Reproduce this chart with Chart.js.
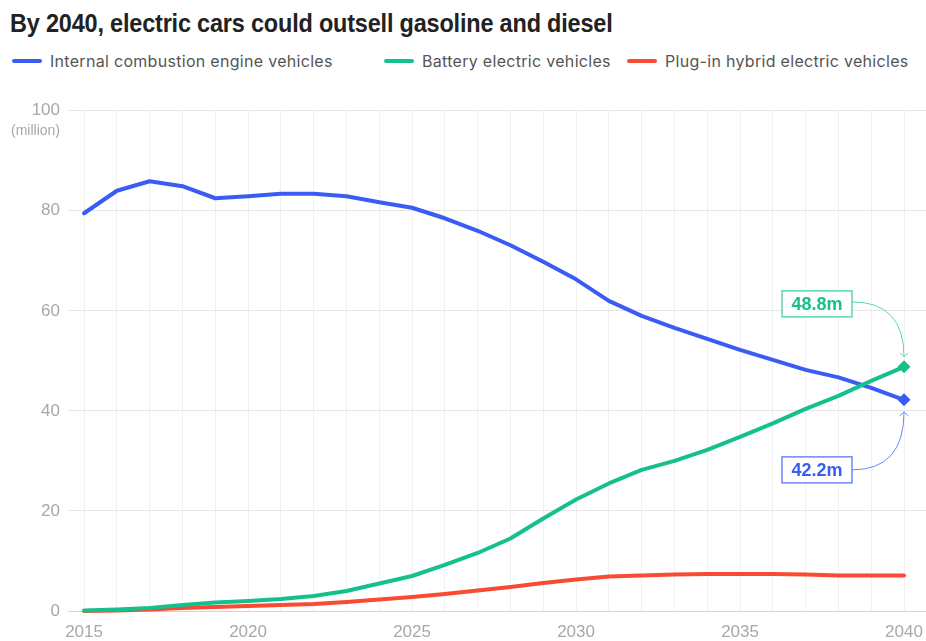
<!DOCTYPE html>
<html>
<head>
<meta charset="utf-8">
<script src="https://cdn.jsdelivr.net/npm/chart.js@4.4.1/dist/chart.umd.min.js"></script>
<style>
  html, body { margin: 0; padding: 0; background: #fff; }
  body { width: 926px; height: 641px; position: relative; overflow: hidden; font-family: "Liberation Sans", Arial, sans-serif; }
  #title { position: absolute; left: 10px; top: 8px; font-family: "Liberation Sans", Arial, sans-serif; font-weight: bold; font-size: 26px; color: #222; white-space: nowrap; transform: scaleX(0.902); transform-origin: left top; letter-spacing: -0.2px; }
  #legend { position: absolute; left: 12px; top: 51px; font-family: Inter, sans-serif; font-size: 16px; letter-spacing: 0.3px; color: #555; white-space: nowrap; }
  .item { position: absolute; top: 0; display: flex; align-items: center; height: 20px; }
  .swatch { width: 30px; height: 4px; border-radius: 2px; margin-right: 8px; }
  #wrap { position: absolute; left: 0; top: 80px; width: 926px; height: 561px; }
</style>
</head>
<body>
<div id="title">By 2040, electric cars could outsell gasoline and diesel</div>
<div id="legend"></div>
<div id="wrap"><canvas id="chart"></canvas></div>
<script>
// sales by year, million vehicles
const years = [2015, 2016, 2017, 2018, 2019, 2020, 2021, 2022, 2023, 2024, 2025, 2026, 2027,
  2028, 2029, 2030, 2031, 2032, 2033, 2034, 2035, 2036, 2037, 2038, 2039, 2040];
const iceSales = [79.5, 84.0, 85.9, 84.9, 82.5, 82.9, 83.4, 83.4, 82.9, 81.7, 80.6, 78.5, 76.0,
  73.1, 69.8, 66.3, 62.0, 59.0, 56.6, 54.4, 52.2, 50.2, 48.2, 46.7, 44.6, 42.2];
const bevSales = [0.1, 0.3, 0.6, 1.2, 1.7, 2.0, 2.4, 3.0, 4.0, 5.5, 7.0, 9.2, 11.6,
  14.5, 18.5, 22.3, 25.5, 28.2, 30.0, 32.2, 34.8, 37.5, 40.4, 43.0, 46.0, 48.8];
const phevSales = [0.0, 0.1, 0.3, 0.6, 0.8, 1.0, 1.2, 1.4, 1.8, 2.3, 2.8, 3.4, 4.1,
  4.8, 5.6, 6.3, 6.9, 7.1, 7.3, 7.4, 7.4, 7.4, 7.3, 7.1, 7.1, 7.1];
const seriesNames = ["Internal combustion engine vehicles", "Battery electric vehicles", "Plug-in hybrid electric vehicles"];
const yTicks = [0, 20, 40, 60, 80, 100];

const BLUE = "#3a5cf4";
const GREEN = "#16c08e";
const RED = "#fa4a32";

// legend in html
const legendX = [0, 372, 615];
const legend = document.getElementById("legend");
[BLUE, GREEN, RED].forEach((c, i) => {
  const el = document.createElement("div");
  el.className = "item";
  el.style.left = legendX[i] + "px";
  el.innerHTML = `<span class="swatch" style="background:${c}"></span><span>${seriesNames[i]}</span>`;
  legend.appendChild(el);
});

const last = years.length - 1;
const toPoints = (arr) => years.map((yr, i) => ({ x: yr, y: arr[i] }));
const endMarker = (ctx) => (ctx.dataIndex === last ? 6.5 : 0);

// value callouts with curved arrows at the 2040 points
const callouts = {
  id: "callouts",
  afterDatasetsDraw(chart) {
    const ctx = chart.ctx;
    chart.data.datasets.forEach((ds, di) => {
      if (!ds.callout) return;
      const pt = chart.getDatasetMeta(di).data[last];
      const c = ds.callout;
      const value = ds.data[last].y;
      const text = value.toFixed(1) + "m";
      const boxR = pt.x - 52, boxW = 70, boxH = 26;
      const boxCy = pt.y + c.dy;
      const boxL = boxR - boxW;
      ctx.save();
      ctx.fillStyle = "#fff";
      ctx.fillRect(boxL, boxCy - boxH / 2, boxW, boxH);
      ctx.strokeStyle = c.border;
      ctx.lineWidth = 1.5;
      ctx.strokeRect(boxL, boxCy - boxH / 2, boxW, boxH);
      ctx.fillStyle = ds.borderColor;
      ctx.font = "bold 18px 'Liberation Sans', Arial, sans-serif";
      ctx.textAlign = "center";
      ctx.textBaseline = "middle";
      ctx.fillText(text, boxL + boxW / 2, boxCy + 1);

      // curve from box edge to the marker
      const sy = boxCy - (c.dy < 0 ? 2 : 0);
      const ey = c.dy < 0 ? pt.y - 10 : pt.y + 12;
      ctx.strokeStyle = c.border;
      ctx.lineWidth = 1;
      ctx.beginPath();
      ctx.moveTo(boxR, sy);
      ctx.quadraticCurveTo(pt.x, sy, pt.x, ey);
      ctx.stroke();
      const d = c.dy < 0 ? -1 : 1;
      ctx.beginPath();
      ctx.moveTo(pt.x - 4, ey + 4 * d);
      ctx.lineTo(pt.x, ey);
      ctx.lineTo(pt.x + 4, ey + 4 * d);
      ctx.stroke();
      ctx.restore();
    });
  },
};

// "(million)" unit under the top tick
const unitLabel = {
  id: "unitLabel",
  afterDraw(chart) {
    const y = chart.scales.y;
    const ctx = chart.ctx;
    ctx.save();
    ctx.fillStyle = "#a8a8a8";
    ctx.font = "14px 'Liberation Sans', Arial, sans-serif";
    ctx.textAlign = "right";
    ctx.textBaseline = "middle";
    ctx.fillText("(million)", 60, y.getPixelForValue(100) + 20);
    ctx.restore();
  },
};

const lineStyle = {
  borderWidth: 4,
  pointHoverRadius: 0,
  tension: 0,
  borderCapStyle: "round",
  borderJoinStyle: "round",
  fill: false,
  clip: false,
};

new Chart(document.getElementById("chart"), {
  type: "line",
  data: {
    datasets: [
      {
        ...lineStyle,
        label: seriesNames[0],
        data: toPoints(iceSales),
        borderColor: BLUE,
        backgroundColor: BLUE,
        pointStyle: "rectRot",
        pointRadius: endMarker,
        pointBorderWidth: 0,
        order: 2,
        callout: { dy: 70, border: "#6f87f6" },
      },
      {
        ...lineStyle,
        label: seriesNames[1],
        data: toPoints(bevSales),
        borderColor: GREEN,
        backgroundColor: GREEN,
        pointStyle: "rectRot",
        pointRadius: endMarker,
        pointBorderWidth: 0,
        order: 0,
        callout: { dy: -63, border: "#5dd6ae" },
      },
      {
        ...lineStyle,
        label: seriesNames[2],
        data: toPoints(phevSales),
        borderColor: RED,
        backgroundColor: RED,
        pointRadius: 0,
        order: 1,
      },
    ],
  },
  options: {
    responsive: true,
    maintainAspectRatio: false,
    animation: false,
    events: [],
    layout: { autoPadding: false, padding: { top: 30.7, right: 0, bottom: 0, left: 0 } },
    plugins: { legend: { display: false }, tooltip: { enabled: false } },
    scales: {
      x: {
        type: "linear",
        min: 2014.51,
        max: 2040.67,
        afterBuildTicks: (axis) => {
          axis.ticks = years.map((v) => ({ value: v }));
        },
        afterFit: (axis) => {
          axis.height = 30;
          axis.paddingLeft = 0;
          axis.paddingRight = 0;
        },
        border: { display: false },
        grid: { color: "#f1f1f1", lineWidth: 1, drawTicks: false },
        ticks: {
          autoSkip: false,
          maxRotation: 0,
          padding: 11,
          color: "#a8a8a8",
          font: { family: "'Liberation Sans', Arial, sans-serif", size: 17 },
          callback: (v) => (v % 5 === 0 ? String(v) : ""),
        },
      },
      y: {
        min: 0,
        max: 100,
        afterBuildTicks: (axis) => {
          axis.ticks = yTicks.map((v) => ({ value: v }));
        },
        afterFit: (axis) => {
          axis.width = 68;
        },
        border: { display: false },
        grid: {
          color: (ctx) => (ctx.tick && ctx.tick.value === 0 ? "#d4d4d4" : "#e6e6e6"),
          lineWidth: 1,
          drawTicks: false,
        },
        ticks: {
          padding: 8,
          color: "#a8a8a8",
          font: { family: "'Liberation Sans', Arial, sans-serif", size: 17 },
        },
      },
    },
  },
  plugins: [callouts, unitLabel],
});
</script>
</body>
</html>
